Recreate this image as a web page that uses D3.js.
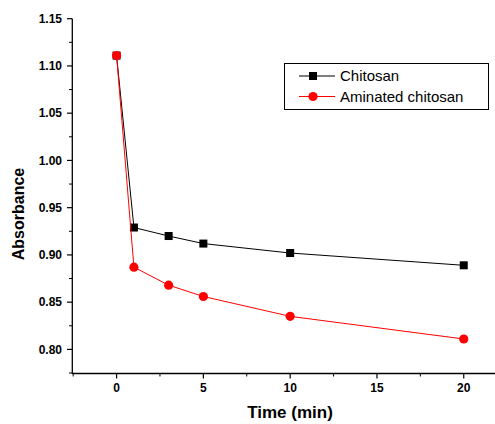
<!DOCTYPE html>
<html><head><meta charset="utf-8">
<script src="https://cdn.jsdelivr.net/npm/d3@7"></script>
<style>body{margin:0;background:#fff}svg{display:block}text{font-family:"Liberation Sans",Arial,sans-serif}</style>
</head><body>
<script>
const times = [0, 1, 3, 5, 10, 20];
const chitosan = [1.111, 0.929, 0.920, 0.912, 0.902, 0.889];
const aminated = [1.111, 0.887, 0.868, 0.856, 0.835, 0.811];
const seriesNames = ["Chitosan", "Aminated chitosan"];
const xTicks = [0, 5, 10, 15, 20];
const yTicks = [0.80, 0.85, 0.90, 0.95, 1.00, 1.05, 1.10, 1.15];

const W = 495, H = 424;
const svg = d3.select("body").append("svg").attr("width", W).attr("height", H);
const x = d3.scaleLinear().domain([-2.55, 21.8]).range([72.3, 495]);
const y = d3.scaleLinear().domain([0.7745, 1.15]).range([373.5, 18.7]);

// x axis
const xa = svg.append("g").attr("transform", "translate(0,373.5)");
xa.append("line").attr("x1", 72.3).attr("x2", 495).attr("stroke", "#000").attr("stroke-width", 1.3);
xa.selectAll(".maj").data(xTicks).join("line")
  .attr("x1", d => x(d)).attr("x2", d => x(d)).attr("y1", 0).attr("y2", 5)
  .attr("stroke", "#000").attr("stroke-width", 1.2);
xa.selectAll(".min").data(d3.range(-2.5, 22, 5)).join("line")
  .attr("x1", d => x(d)).attr("x2", d => x(d)).attr("y1", 0).attr("y2", 3)
  .attr("stroke", "#000").attr("stroke-width", 1);
xa.selectAll("text").data(xTicks).join("text")
  .attr("x", d => x(d)).attr("y", 18).attr("text-anchor", "middle")
  .attr("font-size", 12).attr("font-weight", "bold").text(d => d);

// y axis
const ya = svg.append("g");
ya.append("line").attr("x1", 72.3).attr("x2", 72.3).attr("y1", 18.7).attr("y2", 374)
  .attr("stroke", "#000").attr("stroke-width", 1.3);
ya.selectAll(".maj").data(yTicks).join("line")
  .attr("x1", 67).attr("x2", 72.3).attr("y1", d => y(d)).attr("y2", d => y(d))
  .attr("stroke", "#000").attr("stroke-width", 1.2);
ya.selectAll(".min").data(d3.range(0.775, 1.15, 0.05)).join("line")
  .attr("x1", 69).attr("x2", 72.3).attr("y1", d => y(d)).attr("y2", d => y(d))
  .attr("stroke", "#000").attr("stroke-width", 1);
ya.selectAll("text").data(yTicks).join("text")
  .attr("x", 62).attr("y", d => y(d) + 4.3).attr("text-anchor", "end")
  .attr("font-size", 12).attr("font-weight", "bold").text(d => d.toFixed(2));

// titles
svg.append("text").attr("x", 290).attr("y", 418).attr("text-anchor", "middle")
  .attr("font-size", 17).attr("font-weight", "bold").text("Time (min)");
svg.append("text").attr("transform", "translate(24,214) rotate(-90)").attr("text-anchor", "middle")
  .attr("font-size", 16).attr("font-weight", "bold").text("Absorbance");

const line = d3.line().x((d, i) => x(times[i])).y(d => y(d));
// Chitosan
svg.append("path").datum(chitosan).attr("d", line).attr("fill", "none").attr("stroke", "#000").attr("stroke-width", 1);
svg.selectAll(".sq").data(chitosan).join("rect")
  .attr("x", (d, i) => x(times[i]) - 4).attr("y", d => y(d) - 4).attr("width", 8).attr("height", 8).attr("fill", "#000");
// Aminated
svg.append("path").datum(aminated).attr("d", line).attr("fill", "none").attr("stroke", "#f00").attr("stroke-width", 1);
svg.selectAll(".ci").data(aminated).join("circle")
  .attr("cx", (d, i) => x(times[i])).attr("cy", d => y(d)).attr("r", 4.6).attr("fill", "#f00");

// legend
const lg = svg.append("g");
lg.append("rect").attr("x", 284.5).attr("y", 63.5).attr("width", 204).attr("height", 46)
  .attr("fill", "#fff").attr("stroke", "#000").attr("stroke-width", 1);
const rows = [{c: "#000", m: "sq"}, {c: "#f00", m: "ci"}];
rows.forEach((r, i) => {
  const cy = 76 + i * 20.5;
  lg.append("line").attr("x1", 299).attr("x2", 335).attr("y1", cy).attr("y2", cy).attr("stroke", r.c).attr("stroke-width", 1);
  if (r.m === "sq") lg.append("rect").attr("x", 313 - 4).attr("y", cy - 4).attr("width", 8).attr("height", 8).attr("fill", r.c);
  else lg.append("circle").attr("cx", 313).attr("cy", cy).attr("r", 4.6).attr("fill", r.c);
  lg.append("text").attr("x", 340).attr("y", cy + 5.3).attr("font-size", 15).text(seriesNames[i]);
});
</script>
</body></html>
